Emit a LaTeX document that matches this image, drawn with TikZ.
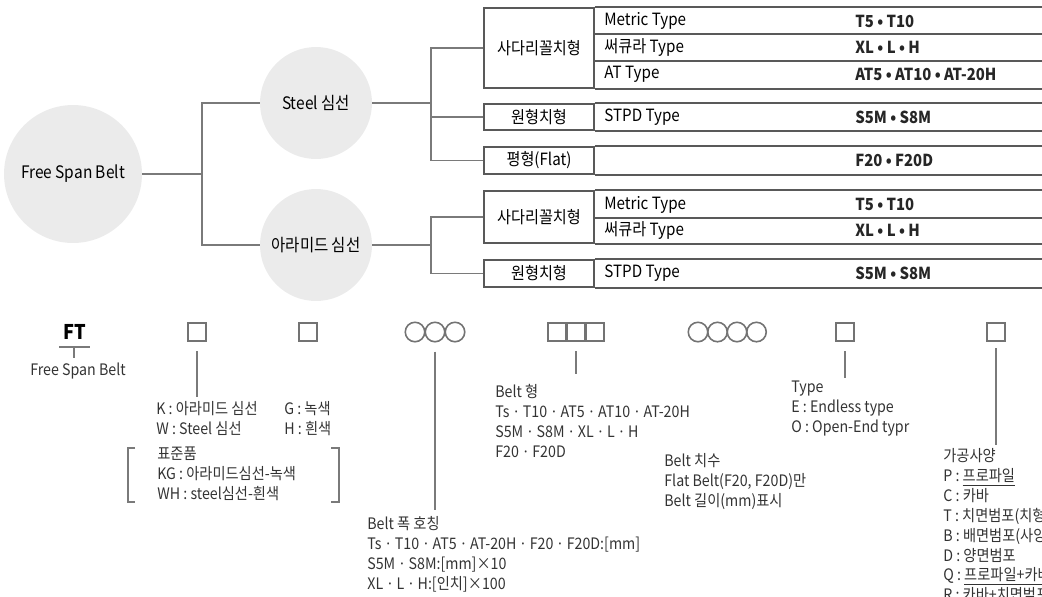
\documentclass[tikz,border=0pt]{standalone}
\usepackage{fontspec}
\setmainfont{Noto Sans CJK KR}[FakeStretch=0.9]
\newfontfamily\dotfont{Noto Sans}[FakeStretch=0.9]
\newcommand\md{\hspace{0.1em}{\dotfont ·}\hspace{0.1em}}
\usetikzlibrary{calc}
\definecolor{bubgray}{HTML}{EBEBEB}
\definecolor{lngray}{HTML}{7A7A7A}
\definecolor{txtgray}{HTML}{333333}
\tikzset{
  bub/.style={circle,fill=bubgray,inner sep=0pt,font=\fontsize{9.8}{11}\selectfont},
  ln/.style={draw=lngray,line width=0.8pt},
  tbl/.style={draw=black!65,line width=0.9pt},
  cell/.style={tbl,minimum width=2.2cm,inner sep=0pt,font=\fontsize{9.6}{11}\selectfont},
  ent/.style={anchor=west,inner sep=0pt,font=\fontsize{9.6}{11}\selectfont},
  val/.style={anchor=west,inner sep=0pt,text=black!85,font=\fontsize{9.4}{11}\selectfont\bfseries},
  sq/.style={draw=black!55,line width=0.9pt,minimum size=0.37cm,inner sep=0pt},
  rg/.style={circle,draw=black!55,line width=0.9pt,minimum size=0.39cm,inner sep=0pt},
  note/.style={anchor=north west,align=left,inner sep=0pt,text=txtgray,font=\fontsize{9}{11.34}\selectfont},
}
\begin{document}
\begin{tikzpicture}[x=0.02cm,y=-0.02cm]
  \useasboundingbox (0,0) rectangle (1042,596);
  \clip (0,0) rectangle (1042,596);
  % tree
  \node[bub,minimum size=2.76cm] (fsb) at (73,174) {Free Span Belt};
  \node[bub,minimum size=2.24cm] (stl) at (316,103) {Steel 심선};
  \node[bub,minimum size=2.24cm] (ara) at (316,245) {아라미드 심선};
  \coordinate (j1) at (202,174);
  \coordinate (sj) at (431,103);
  \coordinate (aj) at (431,245);
  \draw[ln] (fsb) -- (j1);
  \draw[ln] (stl) -| (j1);
  \draw[ln] (ara) -| (j1);
  \draw[ln] (stl) -- (sj);
  \draw[ln] (ara) -- (aj);
  % table
  \node[cell,minimum height=1.6cm] (sd1) at (539,48) {사다리꼴치형};
  \node[cell,minimum height=0.52cm] (wh1) at (539,117) {원형치형};
  \node[cell,minimum height=0.54cm] (fl1) at (539,160.5) {평형(Flat)};
  \node[cell,minimum height=1.04cm] (sd2) at (539,217) {사다리꼴치형};
  \node[cell,minimum height=0.54cm] (wh2) at (539,273.5) {원형치형};
  \foreach \c in {sd1,wh1,fl1,sd2,wh2}
    \draw[tbl] (\c.north east) -- ++(480,0) (\c.south east) -- ++(480,0);
  \draw[tbl] (594,34) -- (1074,34) (594,61) -- (1074,61) (594,218) -- (1074,218);
  \draw[ln] (sd1) -| (sj);
  \draw[ln] (wh1) -| (sj);
  \draw[ln] (fl1) -| (sj);
  \draw[ln] (sd2) -| (aj);
  \draw[ln] (wh2) -| (aj);
  \node[ent] (m1) at (604,21) {Metric Type};
  \node[ent] (s1) at (604,47.5) {써큐라 Type};
  \node[ent] (a1) at (604,74.5) {AT Type};
  \node[ent] (p1) at (604,117) {STPD Type};
  \node[ent] (m2) at (604,204.5) {Metric Type};
  \node[ent] (s2) at (604,230.5) {써큐라 Type};
  \node[ent] (p2) at (604,273.5) {STPD Type};
  \node[val] (vm1) at (855,21) {T5 • T10};
  \node[val] (vs1) at (855,47.5) {XL • L • H};
  \node[val] (va1) at (855,74.5) {AT5 • AT10 • AT-20H};
  \node[val] (vp1) at (855,117) {S5M • S8M};
  \node[val] (vf1) at (855,160.5) {F20 • F20D};
  \node[val] (vm2) at (855,204.5) {T5 • T10};
  \node[val] (vs2) at (855,230.5) {XL • L • H};
  \node[val] (vp2) at (855,273.5) {S5M • S8M};
  % code line
  \node[inner sep=0pt,font=\fontsize{11.5}{12}\selectfont\bfseries] (ft) at (75,332) {FT};
  \coordinate (ftl) at (59,347);
  \coordinate (ftr) at (90,347);
  \coordinate (ftt) at (74,347);
  \node[inner sep=0pt,text=txtgray,font=\fontsize{9}{11}\selectfont] (fsbt) at (78,371) {Free Span Belt};
  \draw[ln] (ftl) -- (ftr);
  \draw[ln,shorten >=0.1cm] (ftt) -- (ftt |- fsbt.north);
  \node[sq] (q1) at (197,332) {};
  \node[sq] (q2) at (308,332) {};
  \foreach \i in {1,2,3}
    \node[rg] (c\i) at ({395+20*\i},332) {};
  \foreach \i in {1,2,3}
    \node[sq] (b\i) at ({538+19*\i},332) {};
  \foreach \i in {1,2,3,4}
    \node[rg] (d\i) at ({678.5+19.5*\i},332) {};
  \node[sq] (q3) at (845,332) {};
  \node[sq] (q4) at (996,332) {};
  \node[note] (kw) at (156,401) {K : 아라미드 심선\\W : Steel 심선};
  \node[note] (gh) at (284,401) {G : 녹색\\H : 흰색};
  \node[note] (std) at (157,447) {표준품\\KG : 아라미드심선-녹색\\WH : steel심선-흰색};
  \node[note] (wid) at (367,516) {Belt 폭 호칭\\Ts \md{} T10 \md{} AT5 \md{} AT-20H \md{} F20 \md{} F20D:[mm]\\S5M \md{} S8M:[mm]×10\\XL \md{} L \md{} H:[인치]×100};
  \node[note] (btp) at (495,384) {Belt 형\\Ts \md{} T10 \md{} AT5 \md{} AT10 \md{} AT-20H\\S5M \md{} S8M \md{} XL \md{} L \md{} H\\F20 \md{} F20D};
  \node[note] (bsz) at (664,453) {Belt 치수\\Flat Belt(F20, F20D)만\\Belt 길이(mm)표시};
  \node[note] (typ) at (791,381) {Type\\E : Endless type\\O : Open-End typr};
  \node[note] (prc) at (943,448) {가공사양\\P : \underline{프로파일}\\C : 카바\\T : 치면범포(치형)\\B : 배면범포(사양)\\D : 양면범포\\Q : \underline{프로파일+카바}\\R : 카바+치면범포};
  \draw[ln] (std.north west) ++(-22,1) -- ++(-7,0) -- ++(0,54) -- ++(7,0);
  \draw[ln] (std.north west) ++(174,1) -- ++(8,0) -- ++(0,54) -- ++(-8,0);
  \draw[ln,shorten <=0.18cm,shorten >=0.08cm] (q1.south) -- (q1.south |- kw.north);
  \draw[ln,shorten <=0.18cm,shorten >=0.12cm] (c2.south) -- (c2.south |- wid.north);
  \draw[ln,shorten <=0.18cm,shorten >=0.2cm] (b2.south) -- (b2.south |- btp.north);
  \draw[ln,shorten <=0.18cm,shorten >=0.14cm] ($(d2.south)!0.5!(d3.south)$) -- ($(d2.south)!0.5!(d3.south)$ |- bsz.north);
  \draw[ln,shorten <=0.18cm,shorten >=0.06cm] (q3.south) -- (q3.south |- typ.north);
  \draw[ln,shorten <=0.12cm,shorten >=0.06cm] (q4.south) -- (q4.south |- prc.north);
\end{tikzpicture}
\end{document}
